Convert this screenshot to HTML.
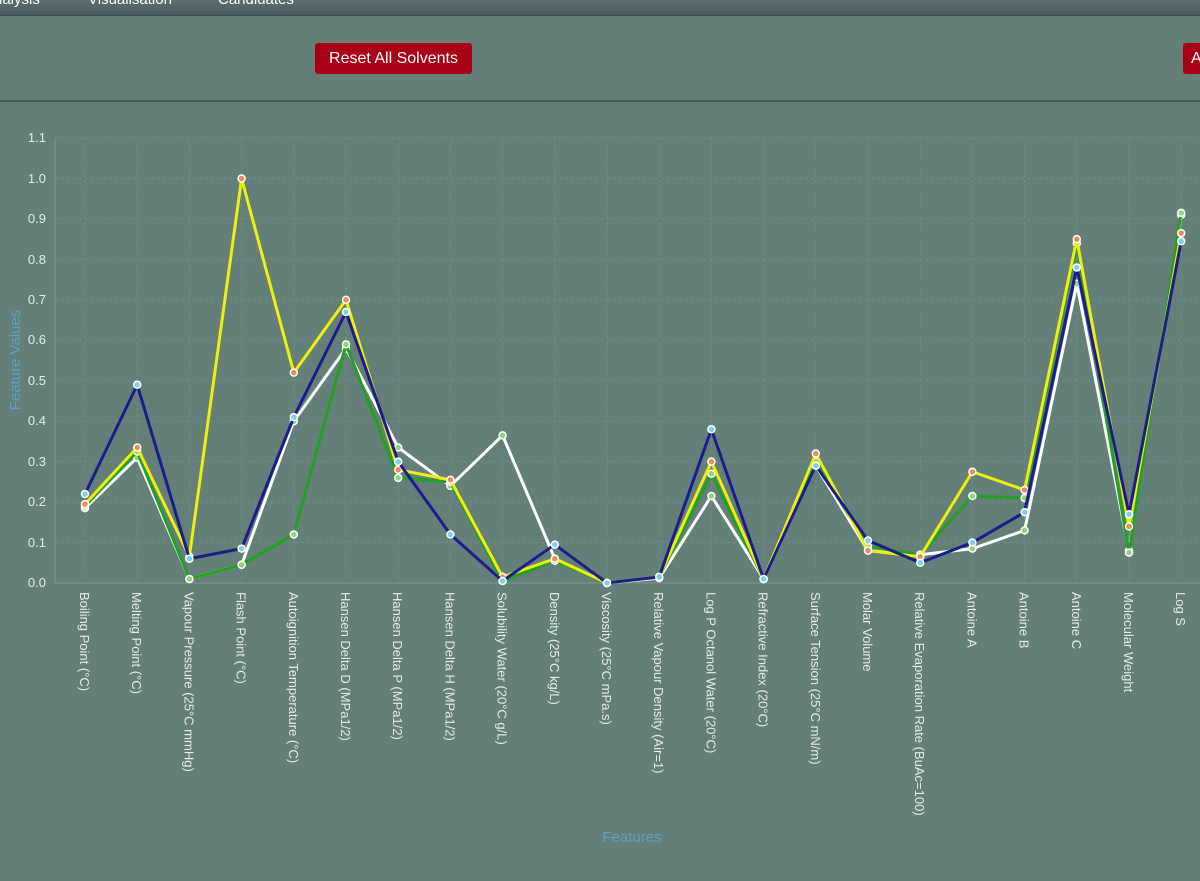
<!DOCTYPE html>
<html><head><meta charset="utf-8"><style>
body{margin:0;width:1200px;height:881px;overflow:hidden;background:#637f78;font-family:"Liberation Sans",sans-serif;}
#nav{position:absolute;left:0;top:0;width:1200px;height:15px;background:linear-gradient(#5e6d6f,#4b5a5c);border-bottom:1px solid #3d4a4b;color:#fff;font-size:15px}
#nav span{position:absolute;top:-9px}
.btn{position:absolute;background:#a80015;color:#fff;font-size:16px;border-radius:3px;line-height:31px;height:31px}
#hr{position:absolute;left:0;top:100px;width:1200px;height:2px;background:#46585a}
</style></head><body>
<div id="nav"><span style="left:-6px">nalysis</span><span style="left:88px">Visualisation</span><span style="left:218px">Candidates</span></div>
<div class="btn" style="left:315px;top:43px;width:157px;text-align:center">Reset All Solvents</div>
<div class="btn" style="left:1183px;top:43px;width:30px;padding-left:8px">A</div>
<div id="hr"></div>
<svg id="s" width="1200" height="881" style="position:absolute;left:0;top:0" font-family="Liberation Sans, sans-serif">
<g id="grid"></g>
<g font-size="13" fill="#e6ecea" text-anchor="end">
<text x="46" y="587">0.0</text><text x="46" y="547">0.1</text><text x="46" y="506">0.2</text><text x="46" y="466">0.3</text><text x="46" y="425">0.4</text><text x="46" y="385">0.5</text><text x="46" y="344">0.6</text><text x="46" y="304">0.7</text><text x="46" y="264">0.8</text><text x="46" y="223">0.9</text><text x="46" y="183">1.0</text><text x="46" y="142">1.1</text>
</g>
<text transform="translate(20,360) rotate(-90)" text-anchor="middle" font-size="15" fill="#5d9fc4">Feature Values</text>
<text x="632" y="842" text-anchor="middle" font-size="15" fill="#5d9fc4">Features</text>
<g id="xl" font-size="13" fill="#e6ecea">
<text>Boiling Point (°C)</text><text>Melting Point (°C)</text><text>Vapour Pressure (25°C mmHg)</text><text>Flash Point (°C)</text><text>Autoignition Temperature (°C)</text><text>Hansen Delta D (MPa1/2)</text><text>Hansen Delta P (MPa1/2)</text><text>Hansen Delta H (MPa1/2)</text><text>Solubility Water (20°C g/L)</text><text>Density (25°C kg/L)</text><text>Viscosity (25°C mPa.s)</text><text>Relative Vapour Density (Air=1)</text><text>Log P Octanol Water (20°C)</text><text>Refractive Index (20°C)</text><text>Surface Tension (25°C mN/m)</text><text>Molar Volume</text><text>Relative Evaporation Rate (BuAc=100)</text><text>Antoine A</text><text>Antoine B</text><text>Antoine C</text><text>Molecular Weight</text><text>Log S</text>
</g>
<g id="lines"></g>
</svg>
<script>
var X=i=>85+52.2*i, Y=v=>583-404.5*v, NS="http://www.w3.org/2000/svg";
var g=document.getElementById('grid'),h='';
for(var k=0;k<=11;k++){h+='<line x1="55" x2="1200" y1="'+Y(k/10)+'" y2="'+Y(k/10)+'" stroke="#6f8c85" stroke-dasharray="3,3"/>';}
for(var i=0;i<22;i++){h+='<line x1="'+X(i)+'" x2="'+X(i)+'" y1="138" y2="583" stroke="#6f8c85" stroke-dasharray="3,3"/>';}
h+='<line x1="55" x2="55" y1="138" y2="583" stroke="#7d958f"/><line x1="55" x2="1200" y1="583" y2="583" stroke="#7d958f"/>';
g.innerHTML=h;
document.querySelectorAll('#xl text').forEach(function(t,i){t.setAttribute('transform','translate('+(X(i)-5)+',592) rotate(90)');});
var S=[
['#ffffff',[.185,.31,.01,.045,.40,.58,.335,.24,.365,.06,0,.012,.215,.01,.29,.08,.07,.085,.13,.74,.08,.91],'#8fd67a'],
['#22a022',[.19,.325,.01,.045,.12,.59,.26,.25,.005,.055,0,.015,.27,.01,.30,.09,.07,.215,.21,.84,.075,.915],'#8fd67a'],
['#eeee11',[.195,.335,.065,1.0,.52,.70,.28,.255,.015,.06,0,.015,.30,.01,.32,.08,.065,.275,.23,.85,.14,.865],'#f08a5a'],
['#1c1c8c',[.22,.49,.06,.085,.41,.67,.30,.12,.005,.095,0,.015,.38,.01,.29,.105,.05,.10,.175,.78,.17,.845],'#7fd0e8']];
var L='';
S.forEach(function(s){var p=s[1].map((v,i)=>X(i)+','+Y(v)).join(' ');
L+='<polyline points="'+p+'" fill="none" stroke="'+s[0]+'" stroke-width="3"/>';
s[1].forEach((v,i)=>{L+='<circle cx="'+X(i)+'" cy="'+Y(v)+'" r="3.5" fill="'+s[2]+'" stroke="#fff" stroke-width="1.5"/>';});});
document.getElementById('lines').innerHTML=L;
</script>
</body></html>
